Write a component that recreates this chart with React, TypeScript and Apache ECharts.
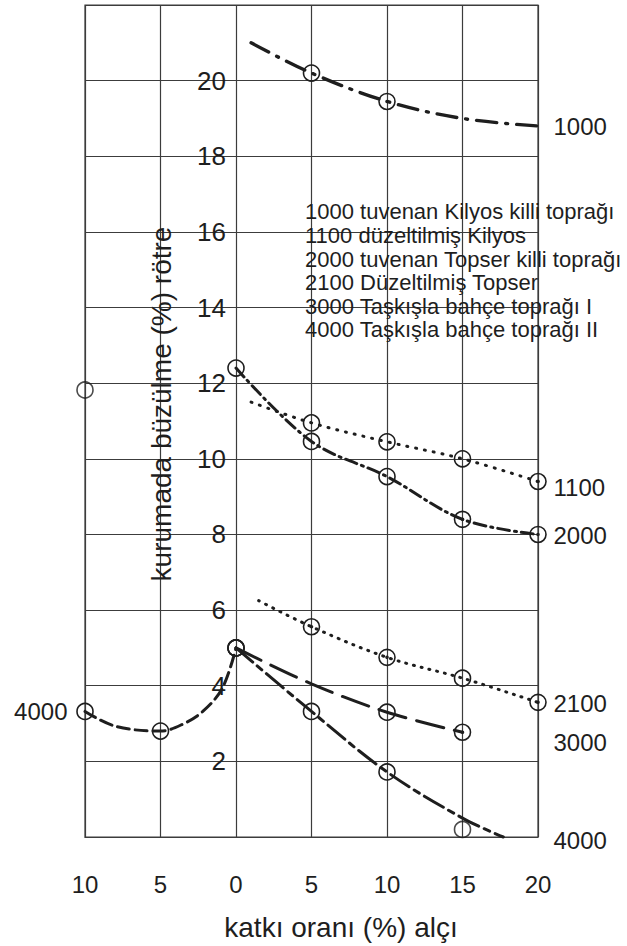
import React, { useEffect, useRef } from 'react';
import * as echarts from 'echarts';

// ---- data ----
const xTickValues = [-10, -5, 0, 5, 10, 15, 20];

// marker codes: 0 = no marker, 1 = open circle, 2 = circle with centre dot
const s1000X = [1, 5, 10, 15, 20];
const s1000Y = [21.0, 20.2, 19.45, 19.0, 18.8];
const s1000M = [0, 1, 2, 0, 0];

const s1100X = [1, 5, 10, 15, 20];
const s1100Y = [11.5, 10.95, 10.45, 10.0, 9.4];
const s1100M = [0, 1, 1, 1, 2];

const s2000X = [0, 5, 10, 15, 20];
const s2000Y = [12.4, 10.46, 9.53, 8.4, 8.0];
const s2000M = [1, 1, 1, 2, 2];

const s2100X = [1.5, 5, 10, 15, 20];
const s2100Y = [6.25, 5.56, 4.75, 4.2, 3.56];
const s2100M = [0, 2, 2, 1, 2];

const s3000X = [0, 5, 10, 15];
const s3000Y = [5.0, 4.05, 3.3, 2.77];
const s3000M = [1, 0, 1, 2];

const s4000LeftX = [-10, -8, -5, -3.6, -2.2, -0.9, 0];
const s4000LeftY = [3.32, 2.93, 2.8, 2.97, 3.32, 3.94, 5.0];
const s4000LeftM = [1, 0, 1, 0, 0, 0, 1];

const s4000RightX = [0, 5, 10, 15, 17.7];
const s4000RightY = [5.0, 3.32, 1.72, 0.5, 0];
const s4000RightM = [1, 1, 1, 0, 0];

const looseX = [-10, 15];
const looseY = [11.82, 0.2];

const endLabels = ['1000', '1100', '2000', '2100', '3000', '4000'];
const endLabelY = [18.8, 9.25, 7.98, 3.54, 2.51, -0.1];
const sideLabel = '4000';
const sideLabelX = -10;
const sideLabelY = 3.32;

const legendLines = [
  '1000 tuvenan Kilyos killi toprağı',
  '1100 düzeltilmiş Kilyos',
  '2000 tuvenan Topser killi toprağı',
  '2100 Düzeltilmiş Topser',
  '3000 Taşkışla bahçe toprağı I',
  '4000 Taşkışla bahçe toprağı II',
];
const yTitle = 'kurumada büzülme (%) rötre';
const xTitle = 'katkı oranı (%) alçı';

// ---- styling ----
const INK = '#1e1e1e';
const GRID = '#3c3c3c';
const FONT = '"Liberation Sans", Arial, sans-serif';
const DOT_CIRCLE =
  'path://M16 8C16 12.42 12.42 16 8 16C3.58 16 0 12.42 0 8C0 3.58 3.58 0 8 0C12.42 0 16 3.58 16 8Z' +
  'M9 8C9 8.55 8.55 9 8 9C7.45 9 7 8.55 7 8C7 7.45 7.45 7 8 7C8.55 7 9 7.45 9 8Z';

function curve(name: string, xs: number[], ys: number[], ms: number[], dash: number[], width: number) {
  return {
    type: 'line',
    name,
    smooth: 0.35,
    clip: false,
    z: 3,
    data: xs.map((x, i) => ({
      value: [x, ys[i]],
      symbol: ms[i] === 0 ? 'none' : ms[i] === 1 ? 'circle' : DOT_CIRCLE,
      symbolSize: 16,
    })),
    lineStyle: { color: INK, width, type: dash, cap: 'round' },
    itemStyle: { color: 'rgba(0,0,0,0)', borderColor: INK, borderWidth: 1.6 },
  };
}

export default function App() {
  const ref = useRef<HTMLDivElement>(null);
  useEffect(() => {
    document.body.style.margin = '0';
    if (!ref.current) return;
    const chart = echarts.init(ref.current, null, { renderer: 'svg' });
    chart.setOption({
      animation: false,
      backgroundColor: '#ffffff',
      grid: {
        left: 85,
        right: 89,
        top: 5,
        bottom: 109,
        show: true,
        borderColor: GRID,
        borderWidth: 1.2,
        outerBoundsMode: 'none',
      },
      xAxis: {
        type: 'value',
        min: -10,
        max: 20,
        interval: 5,
        position: 'bottom',
        axisLine: { show: true, onZero: false, lineStyle: { color: GRID, width: 1.2 } },
        axisTick: { show: false },
        splitLine: { show: true, lineStyle: { color: GRID, width: 1.2 } },
        axisLabel: {
          fontSize: 24,
          fontFamily: FONT,
          color: INK,
          margin: 35,
          customValues: xTickValues,
          formatter: (v: number) => String(Math.abs(v)),
        },
      },
      yAxis: {
        type: 'value',
        min: 0,
        max: 22,
        interval: 2,
        position: 'left',
        offset: -151,
        axisLine: { show: false, onZero: false },
        axisTick: { show: false },
        splitLine: { show: true, lineStyle: { color: GRID, width: 1.2 } },
        axisLabel: {
          fontSize: 26,
          fontFamily: FONT,
          color: INK,
          margin: 10,
          formatter: (v: number) => (v === 0 || v === 22 ? '' : String(v)),
        },
      },
      series: [
        curve('1000', s1000X, s1000Y, s1000M, [20, 9, 2, 9], 3.4),
        curve('1100', s1100X, s1100Y, s1100M, [1, 8], 3),
        curve('2000', s2000X, s2000Y, s2000M, [12, 5, 2, 5], 3),
        curve('2100', s2100X, s2100Y, s2100M, [1, 7], 3),
        curve('3000', s3000X, s3000Y, s3000M, [28, 11], 3),
        curve('4000a', s4000LeftX, s4000LeftY, s4000LeftM, [12, 6], 3),
        curve('4000b', s4000RightX, s4000RightY, s4000RightM, [22, 6, 6, 6], 3),
        {
          type: 'scatter',
          name: 'loose',
          clip: false,
          symbol: 'circle',
          symbolSize: 16,
          itemStyle: { color: 'rgba(0,0,0,0)', borderColor: INK, borderWidth: 1.6 },
          data: looseX.map((x, i) => [x, looseY[i]]),
          z: 3,
        },
        {
          type: 'scatter',
          name: 'labels',
          clip: false,
          silent: true,
          symbolSize: 1,
          itemStyle: { color: 'rgba(0,0,0,0)' },
          data: endLabels.map((t, i) => ({ name: t, value: [20, endLabelY[i]] })),
          label: {
            show: true,
            position: 'right',
            distance: 15,
            formatter: (p: any) => p.name,
            fontSize: 24,
            fontFamily: FONT,
            color: INK,
            opacity: 1,
          },
        },
        {
          type: 'scatter',
          name: 'sidelabel',
          clip: false,
          silent: true,
          symbolSize: 1,
          itemStyle: { color: 'rgba(0,0,0,0)' },
          data: [{ name: sideLabel, value: [sideLabelX, sideLabelY] }],
          label: {
            show: true,
            position: 'left',
            distance: 17,
            formatter: (p: any) => p.name,
            fontSize: 24,
            fontFamily: FONT,
            color: INK,
            opacity: 1,
          },
        },
      ],
      graphic: [
        {
          type: 'text',
          x: 305,
          y: 200,
          z: 10,
          style: {
            text: legendLines.join('\n'),
            fontSize: 22,
            fontFamily: FONT,
            lineHeight: 23.6,
            fill: INK,
            align: 'left',
            verticalAlign: 'top',
          },
        },
        {
          type: 'text',
          x: 161,
          y: 404,
          rotation: Math.PI / 2,
          z: 10,
          style: {
            text: yTitle,
            fontSize: 28,
            fontFamily: FONT,
            fill: INK,
            align: 'center',
            verticalAlign: 'middle',
          },
        },
        {
          type: 'text',
          x: 341,
          y: 927,
          z: 10,
          style: {
            text: xTitle,
            fontSize: 28,
            fontFamily: FONT,
            fill: INK,
            align: 'center',
            verticalAlign: 'middle',
          },
        },
      ],
    });
    return () => chart.dispose();
  }, []);
  return <div ref={ref} style={{ width: 627, height: 946 }} />;
}
